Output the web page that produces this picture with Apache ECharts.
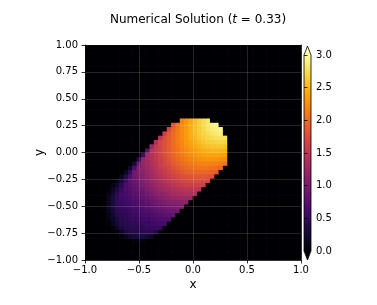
<!DOCTYPE html>
<html><head><meta charset="utf-8">
<script src="https://cdn.jsdelivr.net/npm/echarts@6/dist/echarts.min.js"></script>
<style>html,body{margin:0;padding:0;background:#fff}#c{width:377px;height:305px}</style>
</head><body><div id="c"></div>
<script>
// ---- data ----
const xTickValues = [-1.0, -0.5, 0.0, 0.5, 1.0];
const yTickValues = [-1.0, -0.75, -0.5, -0.25, 0.0, 0.25, 0.5, 0.75, 1.0];
const colorbarTicks = [0.0, 0.5, 1.0, 1.5, 2.0, 2.5, 3.0];
const cellCount = 50;          // 50 x 50 cells over [-1, 1]
const cellWidth = 0.04;
const domainMin = -1;
// row index (j) of each stored row, first non-zero column (i) of that row, and the row's values
const rowIndex = [4,5,6,7,8,9,10,11,12,13,14,15,16,17,18,19,20,21,22,23,24,25,26,27,28,29,30,31,32];
const rowFirstCol = [11,8,7,6,5,5,5,4,4,4,5,5,5,6,7,8,9,10,11,12,13,14,15,16,17,18,19,20,22];
const rowValues = [
 [0.04,0.06,0.05],
 [0.03,0.12,0.22,0.28,0.31,0.31,0.26,0.17],
 [0.06,0.18,0.31,0.38,0.40,0.42,0.43,0.45,0.46,0.33],
 [0.06,0.18,0.32,0.39,0.41,0.43,0.45,0.48,0.49,0.51,0.53,0.50],
 [0.02,0.13,0.27,0.39,0.42,0.45,0.47,0.50,0.52,0.54,0.57,0.58,0.60,0.62],
 [0.07,0.18,0.33,0.42,0.45,0.48,0.51,0.54,0.57,0.60,0.62,0.65,0.67,0.69,0.71],
 [0.11,0.24,0.39,0.45,0.48,0.52,0.55,0.58,0.62,0.65,0.68,0.71,0.75,0.77,0.79,0.82],
 [0.02,0.14,0.29,0.44,0.47,0.52,0.55,0.59,0.63,0.66,0.70,0.74,0.78,0.82,0.85,0.89,0.91,0.93],
 [0.03,0.16,0.32,0.46,0.51,0.54,0.59,0.63,0.67,0.72,0.76,0.81,0.86,0.90,0.94,0.98,1.01,1.03,1.04],
 [0.02,0.16,0.32,0.49,0.53,0.58,0.62,0.67,0.72,0.77,0.83,0.88,0.93,0.98,1.03,1.07,1.10,1.13,1.15,1.15],
 [0.13,0.30,0.48,0.56,0.61,0.66,0.71,0.77,0.83,0.89,0.95,1.01,1.07,1.12,1.16,1.20,1.23,1.25,1.26,1.26],
 [0.09,0.25,0.43,0.58,0.63,0.69,0.75,0.82,0.89,0.95,1.02,1.09,1.15,1.20,1.25,1.29,1.33,1.36,1.37,1.38,1.38],
 [0.03,0.17,0.34,0.52,0.66,0.73,0.80,0.87,0.94,1.02,1.09,1.16,1.23,1.29,1.34,1.39,1.43,1.46,1.48,1.49,1.50,1.49],
 [0.08,0.22,0.43,0.68,0.77,0.84,0.91,1.00,1.08,1.16,1.23,1.30,1.36,1.42,1.48,1.52,1.56,1.59,1.61,1.62,1.61,1.60],
 [0.10,0.30,0.55,0.80,0.88,0.96,1.05,1.13,1.22,1.29,1.37,1.44,1.50,1.56,1.61,1.66,1.69,1.72,1.73,1.74,1.72,1.70],
 [0.13,0.38,0.71,0.92,1.01,1.10,1.18,1.27,1.35,1.43,1.51,1.58,1.64,1.70,1.75,1.79,1.82,1.85,1.85,1.84,1.82,1.79],
 [0.17,0.50,0.94,1.04,1.14,1.23,1.32,1.41,1.49,1.57,1.65,1.72,1.78,1.84,1.89,1.93,1.95,1.96,1.96,1.95,1.92,1.89],
 [0.23,0.66,1.07,1.17,1.26,1.36,1.45,1.55,1.63,1.71,1.79,1.86,1.92,1.98,2.01,2.04,2.06,2.07,2.07,2.05,2.02,1.98],
 [0.31,0.89,1.19,1.29,1.39,1.49,1.59,1.68,1.77,1.85,1.93,2.00,2.05,2.10,2.13,2.16,2.17,2.18,2.17,2.16,2.12,2.08],
 [0.43,1.20,1.31,1.42,1.52,1.63,1.72,1.82,1.91,1.99,2.06,2.12,2.17,2.22,2.25,2.27,2.29,2.29,2.28,2.26,2.22],
 [0.60,1.32,1.43,1.54,1.65,1.76,1.86,1.96,2.04,2.11,2.18,2.24,2.29,2.33,2.37,2.39,2.40,2.40,2.38,2.35],
 [0.77,1.44,1.56,1.67,1.78,1.89,1.98,2.07,2.16,2.23,2.30,2.36,2.41,2.45,2.48,2.50,2.50,2.49,2.47],
 [1.25,1.55,1.68,1.80,1.90,2.00,2.10,2.19,2.27,2.35,2.42,2.48,2.53,2.57,2.59,2.60,2.60,2.58],
 [1.40,1.67,1.79,1.90,2.01,2.12,2.21,2.31,2.39,2.47,2.54,2.60,2.64,2.67,2.69,2.70,2.69],
 [1.50,1.77,1.89,2.01,2.12,2.23,2.33,2.43,2.51,2.59,2.65,2.70,2.74,2.77,2.79,2.78],
 [1.60,1.87,2.00,2.12,2.23,2.34,2.45,2.54,2.62,2.69,2.75,2.80,2.84,2.86],
 [1.70,1.97,2.10,2.23,2.34,2.46,2.55,2.64,2.72,2.79,2.85,2.89,2.92],
 [1.80,2.07,2.21,2.33,2.45,2.55,2.65,2.74,2.82,2.88,2.93],
 [2.17,2.30,2.42,2.54,2.65,2.74,2.83]
];
const infernoColors = ['#000004','#160b39','#420a68','#6a176e','#932667','#bc3754','#dd513a','#f37819','#fca50a','#f6d746','#fcffa4'];

// ---- build the cell table ----
const cells = [];
for (let j = 0; j < cellCount; j++) {
  const r = rowIndex.indexOf(j);
  for (let i = 0; i < cellCount; i++) {
    let v = 0;
    if (r >= 0) {
      const k = i - rowFirstCol[r];
      if (k >= 0 && k < rowValues[r].length) v = rowValues[r][k];
    }
    cells.push([domainMin + cellWidth * (i + 0.5), domainMin + cellWidth * (j + 0.5), v]);
  }
}

const fmt = (v, d) => v.toFixed(d).replace('-', '\u2212');
const FONT = 'DejaVu Sans';

function renderCell(params, api) {
  const c = api.coord([api.value(0), api.value(1)]);
  const s = api.size([cellWidth, cellWidth]);
  return {
    type: 'rect',
    shape: { x: c[0] - s[0] / 2 - 0.35, y: c[1] - s[1] / 2 - 0.35, width: s[0] + 0.7, height: s[1] + 0.7 },
    style: { fill: api.visual('color') }
  };
}

function renderColorbar(params, api) {
  const top = api.coord([0.5, colorbarTicks[colorbarTicks.length - 1]]);
  const bot = api.coord([0.5, colorbarTicks[0]]);
  const cs = params.coordSys;
  const l = cs.x, w = cs.width, tri = 9;
  const grad = new echarts.graphic.LinearGradient(0, 1, 0, 0,
    infernoColors.map((c, i) => ({ offset: i / (infernoColors.length - 1), color: c })));
  return {
    type: 'group',
    children: [
      { type: 'rect', shape: { x: l, y: top[1], width: w, height: bot[1] - top[1] }, style: { fill: grad } },
      { type: 'polygon', shape: { points: [[l, top[1] + 0.5], [l + w, top[1] + 0.5], [l + w / 2, top[1] - tri]] },
        style: { fill: infernoColors[infernoColors.length - 1] } },
      { type: 'polygon', shape: { points: [[l, bot[1] - 0.5], [l + w, bot[1] - 0.5], [l + w / 2, bot[1] + tri]] },
        style: { fill: infernoColors[0] } },
      { type: 'polygon', shape: { points: [[l, top[1]], [l + w / 2, top[1] - tri], [l + w, top[1]], [l + w, bot[1]], [l + w / 2, bot[1] + tri], [l, bot[1]]] },
        style: { fill: 'none', stroke: '#000', lineWidth: 0.8 } }
    ]
  };
}

const chart = echarts.init(document.getElementById('c'), null, { renderer: 'canvas' });
const axisLineStyle = { color: '#000', width: 0.8 };
chart.setOption({
  animation: false,
  backgroundColor: '#fff',
  textStyle: { fontFamily: FONT },
  title: {
    text: '{n|Numerical Solution (}{i|t}{n| = 0.33)}',
    left: 193, top: 9, textAlign: 'center',
    textStyle: { fontWeight: 'normal', rich: {
      n: { fontFamily: FONT, fontSize: 12, fontWeight: 'normal', color: '#000' },
      i: { fontFamily: FONT, fontSize: 12, fontWeight: 'normal', fontStyle: 'italic', color: '#000' }
    } }
  },
  grid: [
    { left: 85, top: 45, width: 216, height: 215 },
    { left: 304, top: 55, width: 7, height: 196 }
  ],
  visualMap: {
    type: 'continuous', show: false, seriesIndex: 0, dimension: 2,
    min: colorbarTicks[0], max: colorbarTicks[colorbarTicks.length - 1],
    inRange: { color: infernoColors }
  },
  xAxis: [
    { gridIndex: 0, type: 'value', min: xTickValues[0], max: xTickValues[xTickValues.length - 1], interval: 0.5,
      position: 'bottom', z: 10,
      axisLine: { show: true, onZero: false, lineStyle: axisLineStyle },
      axisTick: { show: true, length: 3.5, lineStyle: axisLineStyle },
      axisLabel: { fontSize: 10, color: '#000', fontFamily: FONT, margin: 5, formatter: v => fmt(v, 1) },
      splitLine: { show: true, lineStyle: { color: 'rgba(255,255,255,0.18)', width: 0.8 } },
      name: 'x', nameLocation: 'middle', nameGap: 19, nameMoveOverlap: false,
      nameTextStyle: { fontSize: 12, color: '#000', fontFamily: FONT } },
    { gridIndex: 0, type: 'value', min: -1, max: 1, position: 'top', z: 10,
      axisLine: { show: true, onZero: false, lineStyle: axisLineStyle },
      axisTick: { show: false }, axisLabel: { show: false }, splitLine: { show: false } },
    { gridIndex: 1, type: 'value', min: 0, max: 1, show: false }
  ],
  yAxis: [
    { gridIndex: 0, type: 'value', min: yTickValues[0], max: yTickValues[yTickValues.length - 1], interval: 0.25,
      position: 'left', z: 10,
      axisLine: { show: true, onZero: false, lineStyle: axisLineStyle },
      axisTick: { show: true, length: 3.5, lineStyle: axisLineStyle },
      axisLabel: { fontSize: 10, color: '#000', fontFamily: FONT, margin: 7, formatter: v => fmt(v, 2) },
      splitLine: { show: true, lineStyle: { color: 'rgba(255,255,255,0.18)', width: 0.8 } },
      name: 'y', nameLocation: 'middle', nameGap: 39, nameMoveOverlap: false,
      nameTextStyle: { fontSize: 12, color: '#000', fontFamily: FONT } },
    { gridIndex: 0, type: 'value', min: -1, max: 1, position: 'right', z: 10,
      axisLine: { show: true, onZero: false, lineStyle: axisLineStyle },
      axisTick: { show: false }, axisLabel: { show: false }, splitLine: { show: false } },
    { gridIndex: 1, type: 'value', min: colorbarTicks[0], max: colorbarTicks[colorbarTicks.length - 1], interval: 0.5,
      position: 'right', z: 10,
      axisLine: { show: false },
      axisTick: { show: true, length: 3.5, lineStyle: axisLineStyle },
      axisLabel: { fontSize: 10, color: '#000', fontFamily: FONT, margin: 5, formatter: v => fmt(v, 1) },
      splitLine: { show: false } }
  ],
  series: [
    { type: 'custom', xAxisIndex: 0, yAxisIndex: 0, renderItem: renderCell, data: cells, clip: true,
      encode: { x: 0, y: 1 }, silent: true, z: 2 },
    { type: 'custom', xAxisIndex: 2, yAxisIndex: 2, renderItem: renderColorbar, data: [[0.5, 0]],
      encode: { x: 0, y: 1 }, silent: true, z: 2, clip: false }
  ]
});
</script></body></html>
